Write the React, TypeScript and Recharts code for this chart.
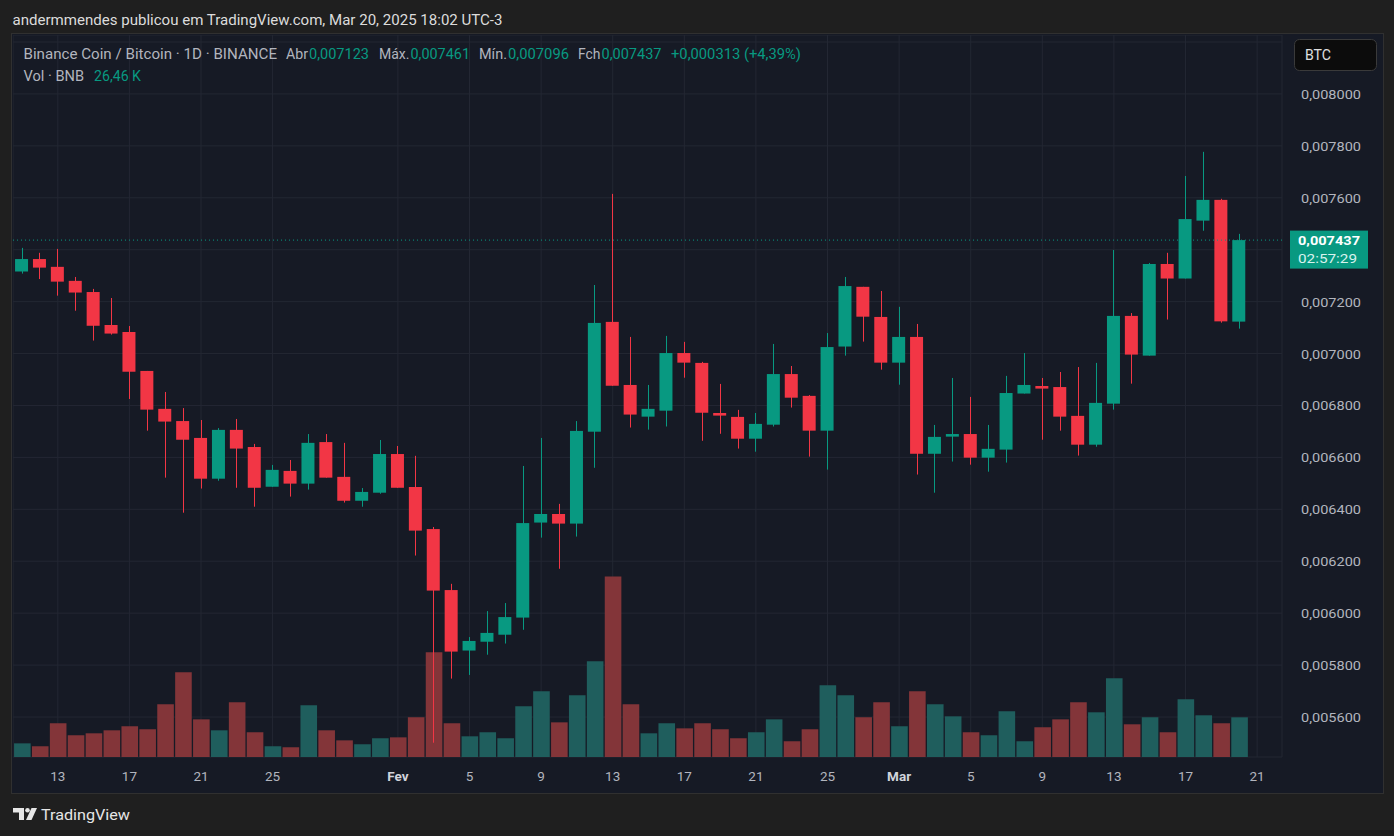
import React from 'react';
import { ComposedChart, Bar, XAxis, YAxis, CartesianGrid, Cell, ReferenceLine } from 'recharts';

const GREEN = '#089981';
const RED = '#f23645';
const VOL_GREEN = '#1f5e5d';
const VOL_RED = '#833539';
const TEXT = '#b2b5be';
const FONT = "Roboto, 'Liberation Sans', sans-serif";

// daily candles, Jan 11 .. Mar 20 2025 (index 0 = Jan 11)
const opens = [
  0.007316, 0.007364, 0.007334, 0.007280, 0.007237, 0.007110, 0.007083, 0.006933, 0.006787, 0.006740,
  0.006675, 0.006518, 0.006706, 0.006640, 0.006487, 0.006548, 0.006499, 0.006659, 0.006525, 0.006433,
  0.006464, 0.006613, 0.006486, 0.006324, 0.006089, 0.005856, 0.005890, 0.005917, 0.005983, 0.006349,
  0.006382, 0.006345, 0.006699, 0.007122, 0.006879, 0.006757, 0.006780, 0.007002, 0.006964, 0.006771,
  0.006756, 0.006672, 0.006726, 0.006921, 0.006837, 0.006703, 0.007027, 0.007257, 0.007141, 0.006965,
  0.007064, 0.006614, 0.006680, 0.006690, 0.006599, 0.006630, 0.006846, 0.006875, 0.006871, 0.006760,
  0.006649, 0.006807, 0.007145, 0.006992, 0.007345, 0.007289, 0.007512, 0.007592, 0.007123,
];
const highs = [
  0.007407, 0.007388, 0.007403, 0.007295, 0.007249, 0.007214, 0.007106, 0.006933, 0.006852, 0.006790,
  0.006744, 0.006713, 0.006748, 0.006652, 0.006571, 0.006590, 0.006690, 0.006690, 0.006656, 0.006482,
  0.006667, 0.006644, 0.006606, 0.006332, 0.006113, 0.005908, 0.006008, 0.006039, 0.006567, 0.006675,
  0.006421, 0.006740, 0.007264, 0.007615, 0.007064, 0.006879, 0.007068, 0.007045, 0.006968, 0.006883,
  0.006783, 0.006771, 0.007037, 0.006952, 0.006840, 0.007079, 0.007295, 0.007257, 0.007241, 0.007180,
  0.007114, 0.006725, 0.006906, 0.006833, 0.006725, 0.006914, 0.007002, 0.006906, 0.006929, 0.006948,
  0.006964, 0.007399, 0.007156, 0.007349, 0.007388, 0.007684, 0.007777, 0.007596, 0.007461,
];
const lows = [
  0.007308, 0.007287, 0.007223, 0.007165, 0.007050, 0.007073, 0.006825, 0.006703, 0.006522, 0.006387,
  0.006480, 0.006510, 0.006483, 0.006410, 0.006487, 0.006449, 0.006476, 0.006522, 0.006426, 0.006410,
  0.006460, 0.006483, 0.006222, 0.005501, 0.005748, 0.005762, 0.005840, 0.005883, 0.005936, 0.006291,
  0.006171, 0.006295, 0.006560, 0.006876, 0.006715, 0.006707, 0.006719, 0.006907, 0.006664, 0.006691,
  0.006634, 0.006622, 0.006719, 0.006792, 0.006603, 0.006553, 0.006992, 0.007046, 0.006938, 0.006880,
  0.006534, 0.006464, 0.006584, 0.006572, 0.006545, 0.006580, 0.006846, 0.006668, 0.006703, 0.006607,
  0.006641, 0.006784, 0.006884, 0.006992, 0.007131, 0.007289, 0.007473, 0.007119, 0.007096,
];
const closes = [
  0.007364, 0.007331, 0.007277, 0.007235, 0.007107, 0.007077, 0.006930, 0.006784, 0.006738, 0.006668,
  0.006518, 0.006706, 0.006634, 0.006483, 0.006552, 0.006499, 0.006656, 0.006522, 0.006433, 0.006467,
  0.006613, 0.006483, 0.006318, 0.006087, 0.005852, 0.005893, 0.005924, 0.005985, 0.006347, 0.006382,
  0.006345, 0.006702, 0.007118, 0.006876, 0.006765, 0.006787, 0.007002, 0.006965, 0.006772, 0.006761,
  0.006672, 0.006729, 0.006921, 0.006830, 0.006703, 0.007025, 0.007260, 0.007142, 0.006965, 0.007064,
  0.006614, 0.006679, 0.006690, 0.006599, 0.006633, 0.006848, 0.006879, 0.006865, 0.006757, 0.006649,
  0.006810, 0.007145, 0.006996, 0.007345, 0.007289, 0.007518, 0.007592, 0.007124, 0.007437,
];
// volume in thousands of BNB
const volumes = [
  9.1, 7.1, 22.5, 14.5, 15.8, 17.8, 20.5, 18.5, 35.1, 56.5,
  25.1, 17.8, 36.5, 16.5, 7.1, 6.5, 34.5, 17.8, 11.1, 8.5,
  12.5, 13.1, 26.5, 69.8, 22.5, 13.8, 16.5, 12.5, 33.8, 43.8,
  23.1, 41.1, 63.8, 120.4, 35.1, 15.8, 22.5, 19.1, 22.5, 18.5,
  12.5, 16.5, 25.1, 10.5, 18.5, 47.8, 41.1, 26.5, 36.5, 20.5,
  43.8, 35.1, 27.1, 16.5, 14.5, 30.5, 10.5, 19.8, 25.1, 36.5,
  29.8, 52.5, 21.8, 26.5, 16.5, 38.5, 27.8, 22.5, 26.46,
];

const tickIndex = [2, 6, 10, 14, 21, 25, 29, 33, 37, 41, 45, 49, 53, 57, 61, 65, 69];
const tickText = ['13', '17', '21', '25', 'Fev', '5', '9', '13', '17', '21', '25', 'Mar', '5', '9', '13', '17', '21'];
const boldTicks = ['Fev', 'Mar'];
const priceTicks = [0.0056, 0.0058, 0.006, 0.0062, 0.0064, 0.0066, 0.0068, 0.007, 0.0072, 0.0074, 0.0076, 0.0078, 0.008, 0.0082];
const labelledMax = 0.008;
const priceDomain = [0.005446, 0.008227];
const volDomain = [0, 481.3];
const xDomain = [-0.503, 70.39];

const lastPrice = 0.007437;
const countdown = '02:57:29';
// price range hidden behind the last-price badge
const badgeBelow = 0.00011;
const badgeAbove = 0.00004;

const data = opens.map((o, i) => ({
  i,
  open: o,
  high: highs[i],
  low: lows[i],
  close: closes[i],
  range: [lows[i], highs[i]],
  vol: volumes[i],
}));

const fmt = (v: number) => v.toFixed(6).replace('.', ',');

const Candle = (props: any) => {
  const { x, y, width, height, payload } = props;
  if (!payload) return null;
  const { open, close, high, low } = payload;
  const top = Math.min(y, y + height);
  const h = Math.abs(height);
  const span = high - low || 1;
  const py = (v: number) => top + ((high - v) / span) * h;
  const up = close >= open;
  const color = up ? GREEN : RED;
  const cx = Math.round(x + width / 2) + 0.5;
  const bTop = py(Math.max(open, close));
  const bBot = py(Math.min(open, close));
  return (
    <g>
      <line x1={cx} x2={cx} y1={top} y2={top + h} stroke={color} strokeWidth={1} />
      <rect x={x} y={bTop} width={width} height={Math.max(1, bBot - bTop)} fill={color} />
    </g>
  );
};

const PriceTick = (props: any) => {
  const { x, y, payload } = props;
  const v = payload.value;
  if (v > labelledMax + 1e-9) return null;
  if (v > lastPrice - badgeBelow && v < lastPrice + badgeAbove) return null;
  return (
    <text x={x + 17} y={y + 5} fill={TEXT} fontSize={13.5} fontFamily={FONT} textAnchor="start" textLength={60} lengthAdjust="spacingAndGlyphs">
      {fmt(v)}
    </text>
  );
};

const DateTick = (props: any) => {
  const { x, y, payload } = props;
  const idx = tickIndex.indexOf(payload.value);
  const label = tickText[idx] ?? '';
  const bold = boldTicks.includes(label);
  return (
    <text x={x} y={y + 22} fill={bold ? '#d1d4dc' : TEXT} fontSize={13.5} fontWeight={bold ? 700 : 400} fontFamily={FONT} textAnchor="middle">
      {label}
    </text>
  );
};

const PriceLabel = (props: any) => {
  const vb = props.viewBox || {};
  const lx = (vb.x ?? 0) + (vb.width ?? 0) + 8;
  const ly = vb.y ?? 0;
  return (
    <g>
      <rect x={lx} y={ly - 9.5} width={78} height={38} fill={GREEN} />
      <text x={lx + 8} y={ly + 5} fill="#ffffff" fontSize={13.5} fontWeight={700} fontFamily={FONT} textLength={62} lengthAdjust="spacingAndGlyphs">
        {fmt(lastPrice)}
      </text>
      <text x={lx + 8} y={ly + 23} fill="#d8f2ee" fontSize={13.5} fontFamily={FONT} textLength={59} lengthAdjust="spacingAndGlyphs">
        {countdown}
      </text>
    </g>
  );
};

const legendParts = [
  { text: 'Binance Coin / Bitcoin · 1D · BINANCE', x: 23.5, w: 253.5, c: TEXT },
  { text: 'Abr', x: 286, w: 22, c: TEXT },
  { text: '0,007123', x: 309, w: 60, c: GREEN },
  { text: 'Máx.', x: 379, w: 30.5, c: TEXT },
  { text: '0,007461', x: 410.5, w: 59.5, c: GREEN },
  { text: 'Mín.', x: 479, w: 28, c: TEXT },
  { text: '0,007096', x: 508, w: 61, c: GREEN },
  { text: 'Fch', x: 578, w: 22.5, c: TEXT },
  { text: '0,007437', x: 601.5, w: 60, c: GREEN },
  { text: '+0,000313 (+4,39%)', x: 671, w: 130, c: GREEN },
];
const volParts = [
  { text: 'Vol · BNB', x: 23.5, w: 60.5, c: TEXT },
  { text: '26,46 K', x: 94, w: 47, c: GREEN },
];

export default function App() {
  return (
    <div style={{ position: 'absolute', left: 0, top: 0, width: 1394, height: 836, background: '#1f1f1f', overflow: 'hidden' }}>
      <div
        style={{
          position: 'absolute',
          left: 11,
          top: 33,
          width: 1373,
          height: 761,
          boxSizing: 'border-box',
          border: '1px solid #303030',
          background: '#161a25',
        }}
      />
      <div style={{ position: 'absolute', left: 13, top: 35 }}>
        <ComposedChart width={1369} height={757} data={data} margin={{ top: 0, right: 0, bottom: 0, left: 0 }}>
          <CartesianGrid xAxisId="main" yAxisId="price" stroke="#232733" strokeWidth={1} />
          <XAxis
            xAxisId="main"
            dataKey="i"
            type="number"
            domain={xDomain}
            ticks={tickIndex}
            interval={0}
            tick={<DateTick />}
            tickLine={false}
            axisLine={false}
            tickSize={0}
            height={35}
            allowDataOverflow
          />
          <XAxis xAxisId="vol" dataKey="i" type="number" domain={xDomain} hide allowDataOverflow />
          <YAxis
            yAxisId="price"
            orientation="right"
            type="number"
            domain={priceDomain}
            ticks={priceTicks}
            interval={0}
            tick={<PriceTick />}
            tickLine={false}
            axisLine={false}
            tickSize={0}
            width={100}
            allowDataOverflow
          />
          <YAxis yAxisId="vol" type="number" domain={volDomain} hide allowDataOverflow />
          <Bar xAxisId="vol" yAxisId="vol" dataKey="vol" barSize={16.6} isAnimationActive={false}>
            {data.map((d, i) => (
              <Cell key={i} fill={d.close >= d.open ? VOL_GREEN : VOL_RED} />
            ))}
          </Bar>
          <Bar xAxisId="main" yAxisId="price" dataKey="range" barSize={13} shape={<Candle />} isAnimationActive={false} />
          <ReferenceLine
            xAxisId="main"
            yAxisId="price"
            y={lastPrice}
            stroke={GREEN}
            strokeWidth={1}
            strokeDasharray="1 3"
            label={<PriceLabel />}
          />
        </ComposedChart>
      </div>
      <svg width={1394} height={836} style={{ position: 'absolute', left: 0, top: 0, pointerEvents: 'none' }}>
        <text x={12.5} y={24.5} fill="#dcdcdc" fontSize={14} fontFamily={FONT} textLength={490} lengthAdjust="spacingAndGlyphs">
          andermmendes publicou em TradingView.com, Mar 20, 2025 18:02 UTC-3
        </text>
        {legendParts.map((p, k) => (
          <text key={k} x={p.x} y={58.7} fill={p.c} fontSize={14} fontFamily={FONT} textLength={p.w} lengthAdjust="spacingAndGlyphs">
            {p.text}
          </text>
        ))}
        {volParts.map((p, k) => (
          <text key={k} x={p.x} y={80.7} fill={p.c} fontSize={14} fontFamily={FONT} textLength={p.w} lengthAdjust="spacingAndGlyphs">
            {p.text}
          </text>
        ))}
        <rect x={1294.5} y={39.5} width={82} height={31} rx={5} fill="#0c0c0c" stroke="#3a3a3a" />
        <text x={1305} y={60} fill="#e0e0e0" fontSize={14} fontFamily={FONT} textLength={26} lengthAdjust="spacingAndGlyphs">
          BTC
        </text>
        <g fill="#e6e6e6">
          <path d="M13 808 H24 V820 H19 V812.5 H13 Z" />
          <circle cx={27.5} cy={810.2} r={2.3} />
          <path d="M31.5 808 H37 L31.5 820 H26 Z" />
        </g>
        <text x={41} y={820} fill="#e6e6e6" fontSize={15.5} fontFamily={FONT} textLength={89} lengthAdjust="spacingAndGlyphs">
          TradingView
        </text>
      </svg>
    </div>
  );
}
